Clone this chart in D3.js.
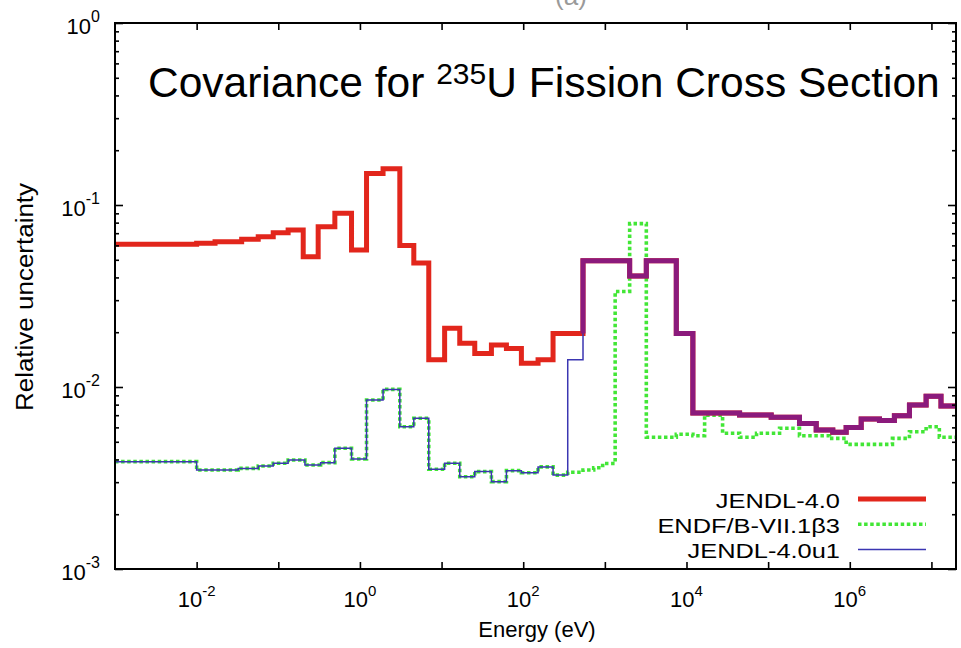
<!DOCTYPE html>
<html>
<head>
<meta charset="utf-8">
<script src="https://cdn.jsdelivr.net/npm/d3@7"></script>
<style>
  body { margin: 0; background: #fff; }
  svg text { font-family: "Liberation Sans", Arial, Helvetica, sans-serif; fill: #000; }
</style>
</head>
<body>
<svg id="chart" width="961" height="648"></svg>
<script>
// ---------------- data ----------------
const energyDomain = [1e-3, 2e7];
const uncertaintyDomain = [1e-3, 1];
const xTickPowers = [-2, -1, 0, 1, 2, 3, 4, 5, 6, 7];
const xLabelPowers = [-2, 0, 2, 4, 6];
const yTickPowers = [-3, -2, -1, 0];
const legendLabels = ["JENDL-4.0", "ENDF/B-VII.1\u03B23", "JENDL-4.0u1"];

// JENDL-4.0 below ~540 eV (group edges in eV, relative uncertainty per group)
const jendlLowEdges = [1e-3, 0.01, 0.0168, 0.0356, 0.0568, 0.0867, 0.132, 0.202, 0.308, 0.493, 0.789,
  1.205, 1.92, 3.08, 4.57, 6.97, 10.9, 16.7, 25.5, 40.8, 62.3, 95, 152, 232, 540];
const jendlLowValues = [0.0608, 0.0616, 0.0629, 0.0648, 0.0670, 0.0704, 0.0729, 0.052, 0.076, 0.090,
  0.0566, 0.149, 0.158, 0.060, 0.048, 0.0141, 0.0210, 0.0174, 0.0153, 0.0170, 0.0163, 0.0135, 0.0141, 0.0197];

// JENDL-4.0 and JENDL-4.0u1 agree above ~540 eV
const sharedTailEdges = [540, 2013, 3220, 7500, 11970, 44700, 109000, 242000, 388000, 619000, 903000,
  1.38e6, 2.31e6, 3.52e6, 5.38e6, 8.61e6, 1.31e7, 2e7];
const sharedTailValues = [0.0494, 0.0407, 0.0494, 0.0197, 0.0072, 0.00702, 0.00682, 0.0063, 0.0058,
  0.00565, 0.0060, 0.00667, 0.00655, 0.00695, 0.00797, 0.0089, 0.00787];

// JENDL-4.0u1 and ENDF/B-VII.1b3 agree below ~351 eV
const commonLowEdges = [1e-3, 0.01, 0.0323, 0.0568, 0.0867, 0.132, 0.212, 0.33, 0.493, 0.789, 1.205,
  1.92, 3.08, 4.57, 6.97, 10.9, 16.7, 25.5, 40.8, 62.3, 95, 152, 232, 351];
const commonLowValues = [0.00389, 0.00350, 0.00357, 0.00368, 0.00381, 0.00397, 0.00373, 0.00384,
  0.00461, 0.00402, 0.00849, 0.0097, 0.00605, 0.00673, 0.00353, 0.00381, 0.00321, 0.00343, 0.00302,
  0.00347, 0.00338, 0.00364, 0.00328];

// JENDL-4.0u1 between the two regions
const u1MidEdges = [351, 540];
const u1MidValues = [0.0141];

// ENDF/B-VII.1b3 above ~351 eV
const endfHighEdges = [351, 540, 730, 940, 1337, 2013, 3220, 7500, 11970, 16670, 27670, 44700, 72100,
  138000, 242000, 565000, 903000, 3.33e6, 5.38e6, 8.61e6, 1.25e7, 2e7];
const endfHighValues = [0.0034, 0.0035, 0.0036, 0.0038, 0.0335, 0.079, 0.0053, 0.0055, 0.0054, 0.0070,
  0.00557, 0.0053, 0.00557, 0.00593, 0.0054, 0.00522, 0.00484, 0.00522, 0.00568, 0.00605, 0.0053];

// ---------------- layout ----------------
const plot = { left: 115, right: 956, top: 23, bottom: 569 };
const colors = { red: "#e2261c", green: "#42e636", blue: "#3b36b2", purple: "#8b1a7c" };

const svg = d3.select("#chart");
const x = d3.scaleLog().domain(energyDomain).range([plot.left, plot.right]);
const y = d3.scaleLog().domain(uncertaintyDomain).range([plot.bottom, plot.top]);

function steps(edges, values) {
  const pts = [];
  values.forEach((v, i) => { pts.push([edges[i], v]); pts.push([edges[i + 1], v]); });
  return pts;
}
const line = d3.line().x(d => x(d[0])).y(d => y(d[1]));

svg.append("defs").append("clipPath").attr("id", "clip")
  .append("rect").attr("x", plot.left).attr("y", plot.top)
  .attr("width", plot.right - plot.left).attr("height", plot.bottom - plot.top);

const g = svg.append("g").attr("clip-path", "url(#clip)");

const endfPts = steps(commonLowEdges, commonLowValues).concat(steps(endfHighEdges, endfHighValues));
const jendlPts = steps(jendlLowEdges, jendlLowValues).concat(steps(sharedTailEdges, sharedTailValues));
const u1Pts = steps(commonLowEdges, commonLowValues).concat(steps(u1MidEdges, u1MidValues))
  .concat(steps(sharedTailEdges, sharedTailValues));
const overlapStart = Math.max(jendlLowValues[jendlLowValues.length - 1], u1MidValues[u1MidValues.length - 1]);
const overlapPts = [[sharedTailEdges[0], overlapStart]].concat(steps(sharedTailEdges, sharedTailValues));

g.append("path").attr("d", line(endfPts)).attr("fill", "none")
  .attr("stroke", colors.green).attr("stroke-width", 3.6).attr("stroke-dasharray", "3.5,2.6");
g.append("path").attr("d", line(jendlPts)).attr("fill", "none")
  .attr("stroke", colors.red).attr("stroke-width", 5).attr("stroke-linejoin", "miter");
g.append("path").attr("d", line(u1Pts)).attr("fill", "none")
  .attr("stroke", colors.blue).attr("stroke-width", 1.5);
g.append("path").attr("d", line(overlapPts)).attr("fill", "none")
  .attr("stroke", colors.purple).attr("stroke-width", 5).attr("stroke-linejoin", "miter");

// ---------------- axes ----------------
const decadesX = xTickPowers.map(p => Math.pow(10, p));
const decadesY = yTickPowers.map(p => Math.pow(10, p));
const minorY = [];
yTickPowers.slice(0, -1).forEach(p => { for (let k = 2; k <= 9; k++) minorY.push(k * Math.pow(10, p)); });

function styleAxis(sel) {
  sel.select(".domain").remove();
  sel.selectAll(".tick line").attr("stroke", "#000").attr("stroke-width", 1.6);
  sel.selectAll(".tick text").remove();
}
svg.append("g").attr("transform", `translate(0,${plot.bottom})`)
  .call(d3.axisBottom(x).tickValues(decadesX).tickSize(-7).tickFormat("")).call(styleAxis);
svg.append("g").attr("transform", `translate(0,${plot.top})`)
  .call(d3.axisTop(x).tickValues(decadesX).tickSize(-7).tickFormat("")).call(styleAxis);
svg.append("g").attr("transform", `translate(${plot.left},0)`)
  .call(d3.axisLeft(y).tickValues(decadesY).tickSize(-8).tickFormat("")).call(styleAxis);
svg.append("g").attr("transform", `translate(${plot.left},0)`)
  .call(d3.axisLeft(y).tickValues(minorY).tickSize(-4).tickFormat("")).call(styleAxis);
svg.append("g").attr("transform", `translate(${plot.right},0)`)
  .call(d3.axisRight(y).tickValues(decadesY).tickSize(-8).tickFormat("")).call(styleAxis);
svg.append("g").attr("transform", `translate(${plot.right},0)`)
  .call(d3.axisRight(y).tickValues(minorY).tickSize(-4).tickFormat("")).call(styleAxis);

svg.append("rect").attr("x", plot.left).attr("y", plot.top)
  .attr("width", plot.right - plot.left).attr("height", plot.bottom - plot.top)
  .attr("fill", "none").attr("stroke", "#000").attr("stroke-width", 2);

// tick labels
xLabelPowers.forEach(p => {
  const t = svg.append("text").attr("x", x(Math.pow(10, p))).attr("y", 607)
    .attr("text-anchor", "middle").style("font-size", "22px");
  t.append("tspan").text("10");
  t.append("tspan").attr("dy", -11).style("font-size", "15px").text(String(p));
});
yTickPowers.forEach(p => {
  const t = svg.append("text").attr("x", 100).attr("y", y(Math.pow(10, p)) + 10.5)
    .attr("text-anchor", "end").style("font-size", "22px");
  t.append("tspan").text("10");
  t.append("tspan").attr("dy", -11.5).style("font-size", "16px").text(String(p));
});

// axis titles
svg.append("text").attr("x", 537).attr("y", 637).attr("text-anchor", "middle")
  .style("font-size", "22px").text("Energy (eV)");
svg.append("text").attr("transform", "translate(33,297) rotate(-90) scale(1.13,1)").attr("text-anchor", "middle")
  .style("font-size", "23px").text("Relative uncertainty");

// title inside plot
const title = svg.append("text").attr("x", 148).attr("y", 97).style("font-size", "42.5px");
title.append("tspan").text("Covariance for ");
title.append("tspan").attr("dy", -13).style("font-size", "30px").text("235");
title.append("tspan").attr("dy", 13).text("U Fission Cross Section");

// panel label, cut by the top edge as in the source figure
svg.append("text").attr("x", 571).attr("y", 5).attr("text-anchor", "middle")
  .style("font-size", "26px").style("fill", "#9a9a9a").text("(a)");

// legend
const legendRows = [
  { label: legendLabels[0], color: colors.red, width: 5, dash: null },
  { label: legendLabels[1], color: colors.green, width: 3.6, dash: "3.5,2.6" },
  { label: legendLabels[2], color: colors.blue, width: 1.5, dash: null }
];
legendRows.forEach((r, i) => {
  const ly = 499 + i * 25.2;
  svg.append("text").attr("transform", `translate(840,${ly + 8.5}) scale(1.24,1)`)
    .attr("text-anchor", "end").style("font-size", "20.5px").text(r.label);
  const l = svg.append("line").attr("x1", 858).attr("x2", 926).attr("y1", ly).attr("y2", ly)
    .attr("stroke", r.color).attr("stroke-width", r.width);
  if (r.dash) l.attr("stroke-dasharray", r.dash);
});
</script>
</body>
</html>
